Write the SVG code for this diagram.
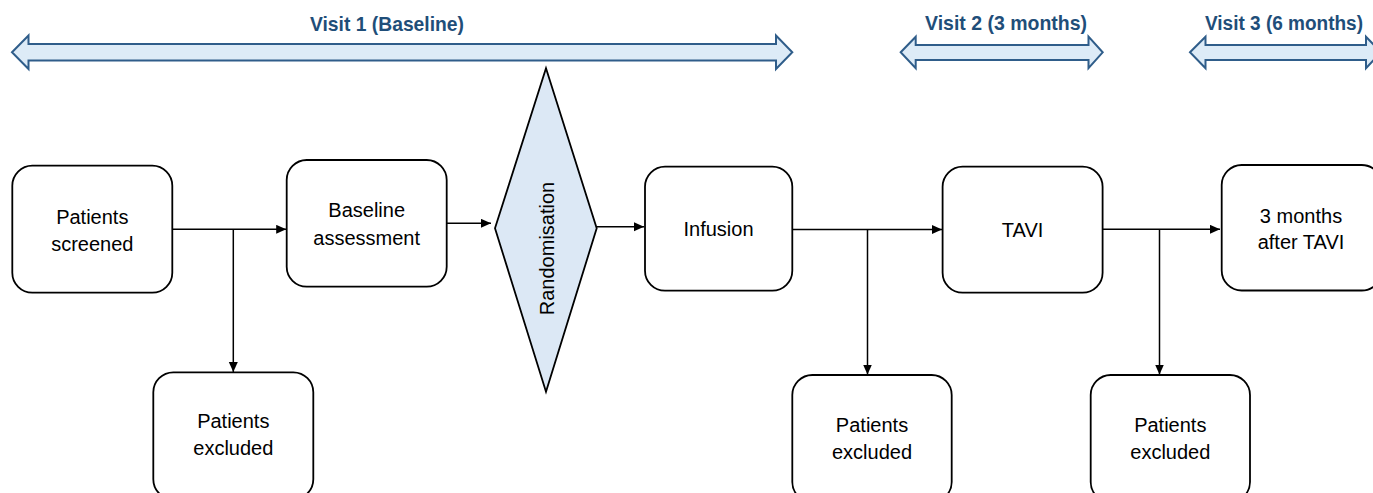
<svg xmlns="http://www.w3.org/2000/svg" width="1373" height="493" viewBox="0 0 1373 493">
<defs>
<style>
.band{fill:#DDEBF7;stroke:#2F5D8A;stroke-width:2;stroke-linejoin:miter}
.vt{font-family:"Liberation Sans",Arial,sans-serif;font-weight:bold;font-size:21px;fill:#1F4E79;text-anchor:middle}
.vt3{font-family:"Liberation Sans",Arial,sans-serif;font-weight:bold;font-size:20px;fill:#1F4E79;text-anchor:middle}
.box{fill:#FFFFFF;stroke:#000000;stroke-width:1.8}
.dia{fill:#DCE8F5;stroke:#000000;stroke-width:1.8}
.t{font-family:"Liberation Sans",Arial,sans-serif;font-size:20px;fill:#000000;text-anchor:middle}
.c{fill:none;stroke:#000000;stroke-width:1.5}
</style>
<marker id="ah" markerUnits="userSpaceOnUse" markerWidth="12" markerHeight="10" refX="10" refY="4.5" orient="auto">
<path d="M0,0 L10,4.5 L0,9 Z" fill="#000000"/>
</marker>
</defs>
<g id="visit1">
<polygon class="band" points="12,52.3 28.5,35.5 28.5,44 776,44 776,35.5 792.3,52.3 776,69 776,60.6 28.5,60.6 28.5,69"/>
<text class="vt" x="387" y="31" textLength="154" lengthAdjust="spacingAndGlyphs">Visit 1 (Baseline)</text>
</g>
<g id="visit2">
<polygon class="band" points="900.7,52.3 915.7,36.7 915.7,45 1088.5,45 1088.5,36.7 1102.7,52.3 1088.5,68.2 1088.5,60 915.7,60 915.7,68.2"/>
<text class="vt" x="1006" y="30" textLength="162" lengthAdjust="spacingAndGlyphs">Visit 2 (3 months)</text>
</g>
<g id="visit3">
<polygon class="band" points="1190,52.3 1205.5,36.7 1205.5,45 1366,45 1366,36.7 1381,52.3 1366,68.2 1366,60 1205.5,60 1205.5,68.2"/>
<text class="vt3" x="1284" y="30" textLength="158" lengthAdjust="spacingAndGlyphs">Visit 3 (6 months)</text>
</g>
<g id="connectors">
<path class="c" d="M172.3,229.3 H286.2" marker-end="url(#ah)"/>
<path class="c" d="M233.3,229.3 V372" marker-end="url(#ah)"/>
<path class="c" d="M446.7,223.3 H491" marker-end="url(#ah)"/>
<path class="c" d="M596.7,226.7 H644" marker-end="url(#ah)"/>
<path class="c" d="M792.3,229.5 H942" marker-end="url(#ah)"/>
<path class="c" d="M867.5,229.5 V374.5" marker-end="url(#ah)"/>
<path class="c" d="M1102.6,229.3 H1220" marker-end="url(#ah)"/>
<path class="c" d="M1159.5,229.3 V374.5" marker-end="url(#ah)"/>
</g>
<g id="screened">
<rect class="box" x="12.3" y="165.7" width="160" height="127" rx="20" ry="20"/>
<text class="t" x="92.3" y="224">Patients</text>
<text class="t" x="92.3" y="250.5">screened</text>
</g>
<g id="baseline">
<rect class="box" x="286.7" y="160" width="160" height="126.7" rx="20" ry="20"/>
<text class="t" x="366.7" y="217">Baseline</text>
<text class="t" x="366.7" y="244.5">assessment</text>
</g>
<g id="randomisation">
<polygon class="dia" points="546,68.3 596.7,228.3 546,391.7 495,228.3"/>
<text class="t" transform="translate(554,248.5) rotate(-90)" x="0" y="0">Randomisation</text>
</g>
<g id="infusion">
<rect class="box" x="645" y="166.7" width="147.3" height="124" rx="20" ry="20"/>
<text class="t" x="718.5" y="236">Infusion</text>
</g>
<g id="tavi">
<rect class="box" x="942.6" y="166.7" width="160" height="126" rx="20" ry="20"/>
<text class="t" x="1022.6" y="237">TAVI</text>
</g>
<g id="after_tavi">
<rect class="box" x="1221.7" y="165" width="160" height="125.5" rx="20" ry="20"/>
<text class="t" x="1301" y="222.5">3 months</text>
<text class="t" x="1301" y="249.3">after TAVI</text>
</g>
<g id="excluded1">
<rect class="box" x="153.3" y="372.3" width="160" height="127" rx="20" ry="20"/>
<text class="t" x="233.3" y="428.3">Patients</text>
<text class="t" x="233.3" y="455">excluded</text>
</g>
<g id="excluded2">
<rect class="box" x="792.3" y="375" width="159.4" height="127" rx="20" ry="20"/>
<text class="t" x="872" y="431.7">Patients</text>
<text class="t" x="872" y="459.3">excluded</text>
</g>
<g id="excluded3">
<rect class="box" x="1090.7" y="375" width="159.3" height="127" rx="20" ry="20"/>
<text class="t" x="1170.3" y="431.7">Patients</text>
<text class="t" x="1170.3" y="459.3">excluded</text>
</g>
</svg>
